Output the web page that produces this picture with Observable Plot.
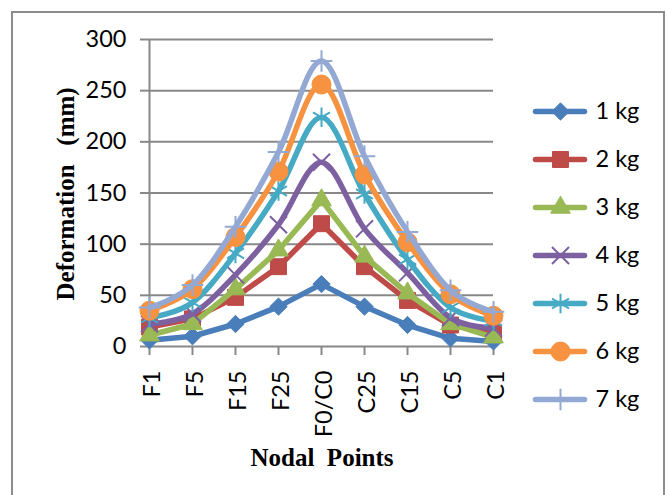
<!DOCTYPE html>
<html><head><meta charset="utf-8">
<script src="https://cdn.jsdelivr.net/npm/d3@7"></script>
<script src="https://cdn.jsdelivr.net/npm/@observablehq/plot@0.6"></script>
<style>
html,body{margin:0;padding:0;background:#fff;overflow:hidden;}
#wrap{position:relative;width:667px;height:495px;}
#main{position:absolute;left:0;top:0;width:667px;}
#legend{position:absolute;left:520px;top:80px;width:140px;}
#frame{position:absolute;left:11px;top:11px;width:654px;height:600px;border:2px solid #8c8c8c;box-sizing:border-box;pointer-events:none;}
svg text{white-space:pre;}
</style></head><body>
<div id="wrap"><div id="main"></div><div id="legend"></div><div id="frame"></div></div>
<script>
// ---- data ----
const categories = ["F1", "F5", "F15", "F25", "F0/C0", "C25", "C15", "C5", "C1"];
const seriesNames = ["1 kg", "2 kg", "3 kg", "4 kg", "5 kg", "6 kg", "7 kg"];
const kg1 = [6, 10, 22, 39, 61, 39, 21, 8, 5];
const kg2 = [19, 27, 48, 78, 120, 78, 45, 21, 14];
const kg3 = [11, 22, 56, 94, 143, 88, 52, 22, 9];
const kg4 = [22, 32, 70, 119, 180, 115, 72, 28, 18];
const kg5 = [28, 43, 91, 152, 224, 149, 85, 38, 25];
const kg6 = [35, 56, 107, 171, 256, 168, 102, 51, 30];
const kg7 = [38, 60, 117, 190, 279, 186, 112, 55, 34];
const yTicks = [0, 50, 100, 150, 200, 250, 300];
const xTitle = "Nodal  Points";
const yTitle = "Deformation   (mm)";

// ---- styles ----
const seriesValues = [kg1, kg2, kg3, kg4, kg5, kg6, kg7];
const colors = ["#4A7EBB", "#BE4B48", "#98B954", "#7D60A0", "#46AAC5", "#F69240", "#93A9D4"];
const symbols = ["diamond2", "square", "triangle", "times", "asterisk", "circle", "times"];
const symbolR = [7.8, 9, 7.3, 7.8, 9.3, 9.5, 7];
const symbolRotate = [0, 0, 0, 0, 0, 0, 45];
const filled = [true, true, true, false, false, true, false];
const smooth = [false, false, false, true, true, true, true];
const gridColor = "#888888";
const tickFont = "Lato, 'Open Sans', sans-serif";
const titleFont = "'Liberation Serif', 'DejaVu Serif', serif";

const rows = seriesNames.flatMap((s, i) =>
  categories.map((c, j) => ({series: s, cat: c, value: seriesValues[i][j]})));

const marks = [
  Plot.gridY(yTicks, {stroke: gridColor, strokeOpacity: 1, strokeWidth: 2}),
  Plot.axisY(yTicks, {tickSize: 8, tickPadding: 14, stroke: gridColor, strokeWidth: 2,
    fontSize: 23.5, fontFamily: tickFont, label: null}),
  Plot.ruleX([categories[0]], {x: d => d, stroke: gridColor, strokeWidth: 2}),
  Plot.axisX(categories, {tickSize: 9, stroke: gridColor, strokeWidth: 2, tickFormat: () => "", label: null}),
  Plot.text(categories, {x: d => d, text: d => d, frameAnchor: "bottom", rotate: -90,
    textAnchor: "end", lineAnchor: "middle", dy: 24, dx: 3, fontSize: 23.5, fontFamily: tickFont, fill: "#000"}),
  Plot.text([yTitle], {text: d => d, frameAnchor: "left", rotate: -90, textAnchor: "start",
    lineAnchor: "bottom", dx: -75, dy: 107.5, fontSize: 25, fontWeight: "bold", fontFamily: titleFont, fill: "#000"}),
  Plot.text([xTitle], {text: d => d, frameAnchor: "bottom", textAnchor: "middle",
    lineAnchor: "bottom", dx: 1, dy: 119, fontSize: 25, fontWeight: "bold", fontFamily: titleFont, fill: "#000"})
];

seriesNames.forEach((name, i) => {
  const d = rows.filter(r => r.series === name);
  marks.push(Plot.line(d, {x: "cat", y: "value", stroke: colors[i], strokeWidth: 5.5,
    curve: smooth[i] ? "cardinal" : "linear", strokeLinejoin: "round", strokeLinecap: "round"}));
  marks.push(Plot.dot(d, {x: "cat", y: "value", symbol: symbols[i], r: symbolR[i],
    fill: filled[i] ? colors[i] : "none", stroke: colors[i], strokeWidth: filled[i] ? 1 : 2,
    rotate: symbolRotate[i]}));
});

const main = Plot.plot({
  width: 667, height: 495,
  marginLeft: 148, marginRight: 174, marginTop: 39, marginBottom: 149,
  style: {fontFamily: tickFont, overflow: "visible", background: "none"},
  x: {type: "point", domain: categories, padding: 0, axis: null},
  y: {domain: [0, 300], axis: null},
  marks
});
document.getElementById("main").appendChild(main);

// ---- legend ----
const legendMarks = [];
seriesNames.forEach((name, i) => {
  legendMarks.push(Plot.ruleY([name], {y: d => d, stroke: colors[i], strokeWidth: 5.5, strokeLinecap: "round"}));
  legendMarks.push(Plot.dot([name], {y: d => d, frameAnchor: "middle", symbol: symbols[i], r: symbolR[i],
    fill: filled[i] ? colors[i] : "none", stroke: colors[i], strokeWidth: filled[i] ? 1 : 2,
    rotate: symbolRotate[i]}));
});
legendMarks.push(Plot.text(seriesNames, {y: d => d, text: d => d, frameAnchor: "right", dx: 10.5,
  textAnchor: "start", lineAnchor: "middle", fontSize: 23.5, fontFamily: tickFont, fill: "#000"}));

const legend = Plot.plot({
  width: 140, height: 350,
  marginLeft: 15.5, marginRight: 75.5, marginTop: 30, marginBottom: 30,
  style: {fontFamily: tickFont, overflow: "visible", background: "none"},
  x: {domain: [0, 1], axis: null},
  y: {type: "point", domain: seriesNames, padding: 0, axis: null},
  marks: legendMarks
});
document.getElementById("legend").appendChild(legend);
</script>
</body></html>
